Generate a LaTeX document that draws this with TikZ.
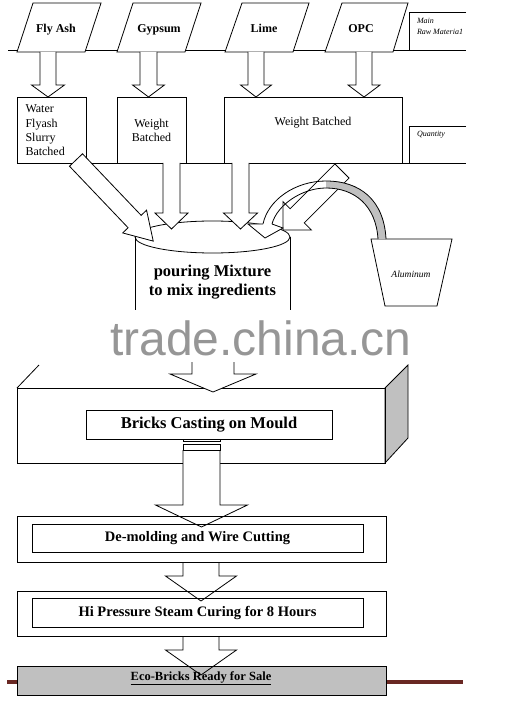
\documentclass[tikz,border=0pt]{standalone}
\usepackage{fontspec}
\setmainfont{Liberation Serif}
\newfontfamily\wmfont{Liberation Sans}
\newcommand\myfs[1]{\fontsize{#1}{#1}\selectfont}
\newcommand\varrow[7][blk]{\draw[#1] ({#2-#6},#3) -- ({#2-#6},#4) -- ({#2-#7},#4) -- (#2,#5) -- ({#2+#7},#4) -- ({#2+#6},#4) -- ({#2+#6},#3);}
\newcommand\slantarrow[6]{\begin{scope}[shift={(#1)},rotate=#2]
\draw[blk] (0,-#4) -- ({#3-#6},-#4) -- ({#3-#6},-#5) -- (#3,0) -- ({#3-#6},#5) -- ({#3-#6},#4) -- (0,#4) -- cycle;
\end{scope}}
\definecolor{boxgray}{RGB}{192,192,192}
\definecolor{maroon}{RGB}{105,40,35}
\definecolor{wm}{RGB}{150,150,150}
\tikzset{
  ln/.style={draw=black,line width=0.8pt,line join=miter},
  blk/.style={draw=black,fill=white,line width=0.8pt,line join=miter},
  blkopen/.style={draw=black,line width=0.8pt,line join=miter},
  txt/.style={inner sep=0pt,outer sep=0pt},
  rawlbl/.style={txt,anchor=base,font=\myfs{12}\bfseries},
  smalllbl/.style={txt,anchor=west,font=\myfs{8}\itshape},
  stepbold/.style={txt,font=\myfs{14.5}\bfseries}
}
\begin{document}
\begin{tikzpicture}[x=1pt,y=-1pt]
\useasboundingbox (0,0) rectangle (523,708);
\fill[white] (0,0) rectangle (523,708);

% horizontal guide lines
\draw[ln] (8,50) -- (466,50);
\draw[ln] (17,163) -- (466,163);

% raw material parallelograms
\draw[blk] (33,3) -- (101,3) -- (85,52) -- (17,52) -- cycle;
\draw[blk] (133,3) -- (201,3) -- (185,52) -- (117,52) -- cycle;
\draw[blk] (242,3) -- (309,3) -- (293,52) -- (225,52) -- cycle;
\draw[blk] (342,3) -- (408,3) -- (393,52) -- (325,52) -- cycle;
\node[rawlbl] (flyash) at (56,32.5) {Fly Ash};
\node[rawlbl] (gypsum) at (159,32.5) {Gypsum};
\node[rawlbl] (lime) at (264,32.5) {Lime};
\node[rawlbl] (opc) at (361,32.5) {OPC};

% side labels
\draw[ln] (466,12) -- (409,12) -- (409,50);
\node[smalllbl] (main) at (417,20.5) {Main};
\node[smalllbl] (rawmat) at (417,32) {Raw Materia1};
\draw[ln] (466,126) -- (409,126) -- (409,163);
\node[smalllbl] (qty) at (417,135) {Quantity};

% arrows raw -> batching
\varrow{48}{52}{85}{97}{8}{16.5}
\varrow{148.5}{52}{85}{97}{8.5}{16}
\varrow{256}{52}{85}{97}{8}{15.5}
\varrow{364}{52}{85}{97}{8}{16}

% batching boxes
\draw[ln] (17,97) rectangle (86,163);
\node[txt,anchor=west,align=left,font=\fontsize{12}{14.3}\selectfont] (water) at (25.5,130.5) {Water\\Flyash\\Slurry\\Batched};
\draw[ln] (117,97) rectangle (186,163);
\node[txt,align=center,font=\fontsize{12}{14}\selectfont] (wb1) at (151.5,130) {Weight\\Batched};
\draw[ln] (224,97) rectangle (402,163);
\node[txt,font=\myfs{12}] (wb2) at (313,123) {Weight Batched};

% mixing cylinder
\draw[ln] (135,237) -- (135,310);
\draw[ln] (290,237) -- (290,310);
\draw[ln] (212.5,237) ellipse [x radius=77.5, y radius=16];
\node[txt,align=center,font=\fontsize{16.5}{19}\selectfont\bfseries] (mix) at (212.5,282.5) {pouring Mixture\\to mix ingredients};

% arrows into cylinder
\slantarrow{76,160}{-46.4}{112}{9}{16.5}{27}
\varrow{171.5}{163}{213}{229}{8.5}{16.5}
\varrow{240.5}{163}{213}{229}{8.5}{17}
\slantarrow{342,171}{-135}{83.4}{10}{20}{20}

% aluminum bucket and curved arrow
\draw[ln] (371,239) -- (452,239) -- (437,306) -- (385,306) -- cycle;
\node[txt,font=\myfs{9.5}\itshape] (alu) at (411,274) {Aluminum};
\fill[boxgray] (386,239) .. controls (384,200) and (360,181) .. (326,181) -- (326,188) .. controls (355,188) and (376,206) .. (378,239) -- cycle;
\draw[ln] (386,239) .. controls (384,200) and (360,181) .. (326,181) .. controls (295,181) and (268,200) .. (263,224);
\draw[ln] (378,239) .. controls (376,206) and (355,188) .. (326,188) .. controls (302,188) and (277,205) .. (272,224);
\draw[blk] (263,224) -- (248,224) -- (265,238) -- (283,228) -- (272,224);

% casting block (3D)
\draw[ln] (17,388) -- (39,365);
\draw[ln,fill=boxgray] (385,388) -- (408,365) -- (408,438) -- (385,463) -- cycle;
\draw[ln] (17,388) rectangle (385,463);
\node[draw,line width=0.8pt,inner sep=0pt,minimum width=246pt,minimum height=29pt,font=\myfs{16.5}\bfseries] (cast) at (209,424.5) {Bricks Casting on Mould};
\varrow{213}{362}{374}{392}{21}{43}
\varrow{201.5}{450}{505}{527}{18.5}{46}
\draw[ln,fill=white] (183,439) rectangle (220,441);
\draw[ln,fill=white] (183,444) rectangle (220,450);

% demolding
\varrow{201}{562}{576}{601}{18}{35.5}
\draw[ln] (17,516) rectangle (386,562);
\node[draw,line width=0.8pt,inner sep=0pt,minimum width=331pt,minimum height=28pt,stepbold] (demold) at (197.5,538) {De-molding and Wire Cutting};

% curing
\draw[ln] (17,591) rectangle (386,636);
\node[draw,line width=0.8pt,inner sep=0pt,minimum width=331pt,minimum height=29pt,stepbold] (cure) at (197.5,612.5) {Hi Pressure Steam Curing for 8 Hours};

% final
\draw[maroon,line width=4.5pt] (7,682) -- (463,682);
\draw[ln,fill=boxgray] (17,666) rectangle (386,695);
\varrow[blkopen]{201}{636}{650}{675}{18}{35.5}
\node[txt,font=\myfs{12.5}\bfseries] (eco) at (201,678) {\underline{Eco-Bricks Ready for Sale}};

% watermark
\node[txt,anchor=base west,text=wm,font=\wmfont\myfs{48}] (wmark) at (110,355) {trade.china.cn};
\end{tikzpicture}
\end{document}
